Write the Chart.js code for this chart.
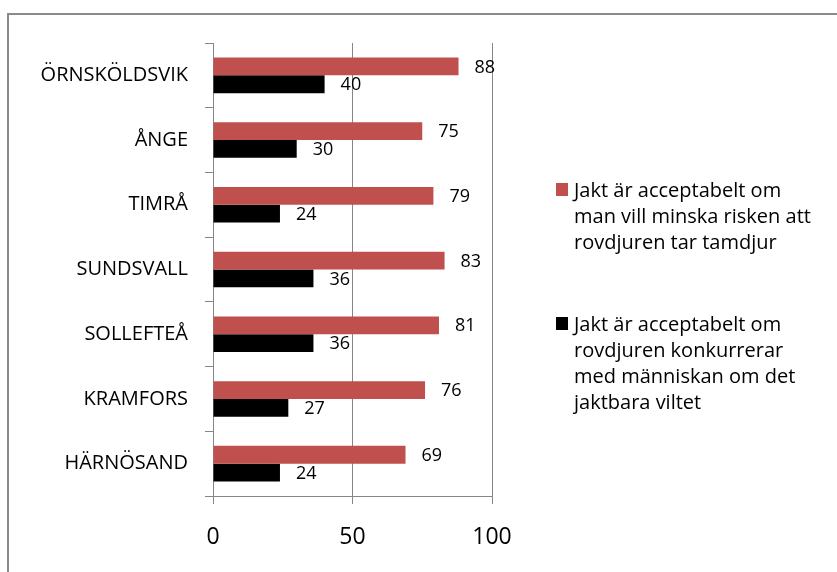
<!DOCTYPE html>
<html>
<head>
<meta charset="utf-8">
<script src="https://cdn.jsdelivr.net/npm/chart.js@4"></script>
<style>
  body { margin: 0; background: #fff; overflow: hidden; }
  #wrap { position: relative; width: 837px; height: 572px; }
  #frame { position: absolute; left: 7px; top: 13px; width: 900px; height: 700px;
    border-top: 2px solid #8a8a8a; border-left: 2px solid #8a8a8a; }
  canvas { position: absolute; left: 0; top: 0; }
  .item { position: absolute; left: 556px; font: 20px "Open Sans", sans-serif; line-height: 26px; color: #000; }
  .item span.box { position: absolute; left: 0; top: 6px; width: 12px; height: 13px; }
  .item div { margin-left: 18px; white-space: nowrap; }
</style>
</head>
<body>
<div id="wrap">
  <div id="frame"></div>
  <canvas id="chart" width="837" height="572"></canvas>
  <div id="legend"></div>
</div>
<script>
// Data
const categories = ["ÖRNSKÖLDSVIK", "ÅNGE", "TIMRÅ", "SUNDSVALL", "SOLLEFTEÅ", "KRAMFORS", "HÄRNÖSAND"];
const tamdjur = [88, 75, 79, 83, 81, 76, 69];
const viltet = [40, 30, 24, 36, 36, 27, 24];
const xTicks = [0, 50, 100];
const seriesNames = [
  ["Jakt är acceptabelt om", "man vill minska risken att", "rovdjuren tar tamdjur"],
  ["Jakt är acceptabelt om", "rovdjuren konkurrerar", "med människan om det", "jaktbara viltet"]
];
const colors = ["#c0504d", "#000000"];

const gray = "#868686";
const font = "Open Sans";

// value labels to the right of each bar
const valueLabels = {
  id: "valueLabels",
  afterDatasetsDraw(chart) {
    const ctx = chart.ctx;
    ctx.save();
    ctx.font = "18px '" + font + "', sans-serif";
    ctx.fillStyle = "#000";
    ctx.textAlign = "left";
    ctx.textBaseline = "middle";
    chart.data.datasets.forEach((ds, i) => {
      chart.getDatasetMeta(i).data.forEach((bar, j) => {
        ctx.fillText(ds.data[j], bar.x + 16, bar.y + 1);
      });
    });
    ctx.restore();
  }
};

new Chart(document.getElementById("chart"), {
  type: "bar",
  data: {
    labels: categories,
    datasets: [
      { label: seriesNames[0].join(" "), data: tamdjur, backgroundColor: colors[0] },
      { label: seriesNames[1].join(" "), data: viltet, backgroundColor: colors[1] }
    ]
  },
  options: {
    indexAxis: "y",
    responsive: false,
    animation: false,
    categoryPercentage: 0.55,
    barPercentage: 1,
    layout: { padding: { left: 0, top: 43, right: 345, bottom: 0 } },
    plugins: { legend: { display: false }, tooltip: { enabled: false } },
    scales: {
      x: {
        min: 0,
        max: 100,
        afterFit: (s) => { s.height = 76; },
        afterBuildTicks: (s) => { s.ticks = xTicks.map(v => ({ value: v })); },
        grid: { color: gray, tickLength: 8, drawTicks: true },
        border: { color: gray },
        ticks: { padding: 20, color: "#000", font: { family: font, size: 23 } }
      },
      y: {
        afterFit: (s) => { s.width = 213; },
        grid: { color: gray, drawOnChartArea: false, tickLength: 8, offset: true },
        border: { color: gray },
        ticks: { padding: 17, color: "#000", font: { family: font, size: 20 } }
      }
    }
  },
  plugins: [valueLabels]
});

// legend as html, placed at the right
const legend = document.getElementById("legend");
const tops = [177, 311];
seriesNames.forEach((lines, i) => {
  const item = document.createElement("div");
  item.className = "item";
  item.style.top = tops[i] + "px";
  item.innerHTML = '<span class="box" style="background:' + colors[i] + '"></span>' +
    lines.map(l => "<div>" + l + "</div>").join("");
  legend.appendChild(item);
});
</script>
</body>
</html>
